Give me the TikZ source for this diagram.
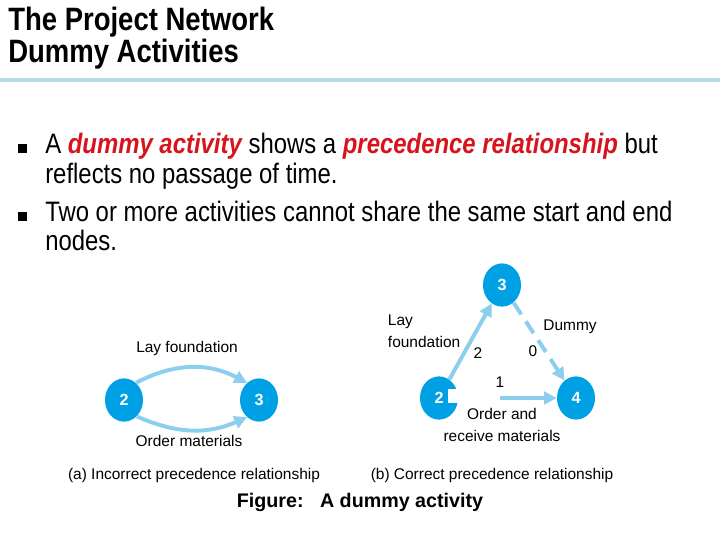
\documentclass[tikz,border=0pt]{standalone}
\usepackage{fontspec}
\setmainfont{Liberation Sans}[FakeStretch=0.85]
\newfontfamily\figfont{Liberation Sans}
\usepackage{tikz}
\usetikzlibrary{arrows.meta,shapes.geometric}
\usepackage{xcolor}
\definecolor{noazul}{RGB}{0,160,228}
\definecolor{setaazul}{RGB}{140,206,238}
\definecolor{destaque}{RGB}{215,20,30}
\definecolor{linhatitulo}{RGB}{184,220,226}

\begin{document}
\begin{tikzpicture}[x=0.025cm,y=-0.025cm,
    evento/.style={ellipse,fill=noazul,minimum width=0.95cm,minimum height=1.08cm,
      inner sep=0pt,text=white,font=\figfont\bfseries\fontsize{11.5}{12}\selectfont},
    atividade/.style={setaazul,line width=2.8pt,-{Triangle[length=9pt,width=9pt]}},
    ficticia/.style={atividade,dash pattern=on 10pt off 6pt},
    rotulo/.style={font=\figfont\fontsize{11}{15.6}\selectfont},
    topico/.style={anchor=base west,inner sep=0pt,font=\fontsize{20}{24}\selectfont},
    titulo/.style={anchor=base west,inner sep=0pt,font=\bfseries\fontsize{23}{28}\selectfont}]
    \useasboundingbox (0,0) rectangle (720,540);

    % Título
    \node[titulo] (tit1) at (8,30) {The Project Network};
    \node[titulo] (tit2) at (8,62) {Dummy Activities};
    \draw[linhatitulo,line width=3.5pt] (0,80) -- (720,80);

    % Tópicos
    \fill (18,144) rectangle (27,153);
    \node[topico] (top1) at (45,153) {A \textcolor{destaque}{\bfseries\itshape dummy activity} shows a \textcolor{destaque}{\bfseries\itshape precedence relationship} but};
    \node[topico] (top1b) at (45,183) {reflects no passage of time.};
    \fill (18,212) rectangle (27,221);
    \node[topico] (top2) at (45,221) {Two or more activities cannot share the same start and end};
    \node[topico] (top2b) at (45,250) {nodes.};

    % Rede (a): relação incorreta
    \node[evento] (a2) at (124,400) {2};
    \node[evento] (a3) at (259,400) {3};
    \draw[atividade] (a2.55) to[out=28,in=152] (a3.125);
    \draw[atividade] (a2.-52) to[out=-24,in=-156] (a3.-125);
    \node[rotulo] (la) at (187,348) {Lay foundation};
    \node[rotulo] (oa) at (189,441) {Order materials};
    \node[rotulo] (capa) at (194,475) {(a) Incorrect precedence relationship};

    % Rede (b): relação correta
    \node[evento] (b3) at (502,285) {3};
    \node[evento] (b2) at (439,398) {2};
    \node[evento] (b4) at (576,398) {4};
    \fill[white] (448,389) rectangle (459,403);
    \draw[atividade] (b2) -- (b3);
    \draw[ficticia] (b3) -- (b4);
    \draw[atividade,shorten <=1.05cm] (b2) -- (b4);
    \node[rotulo,align=left,anchor=west] (lb) at (383,331) {Lay\\foundation};
    \node[rotulo] (db) at (570,327) {Dummy};
    \node[rotulo] (d2) at (478,353) {2};
    \node[rotulo] (d0) at (533,351) {0};
    \node[rotulo] (d1) at (500,382) {1};
    \node[rotulo,align=center] (ob) at (502,425) {Order and\\receive materials};
    \node[rotulo] (capb) at (492,475) {(b) Correct precedence relationship};

    % Legenda
    \node[font=\figfont\bfseries\fontsize{14}{17}\selectfont] (fig) at (360,502) {Figure:\ \ \ A dummy activity};
\end{tikzpicture}
\end{document}
